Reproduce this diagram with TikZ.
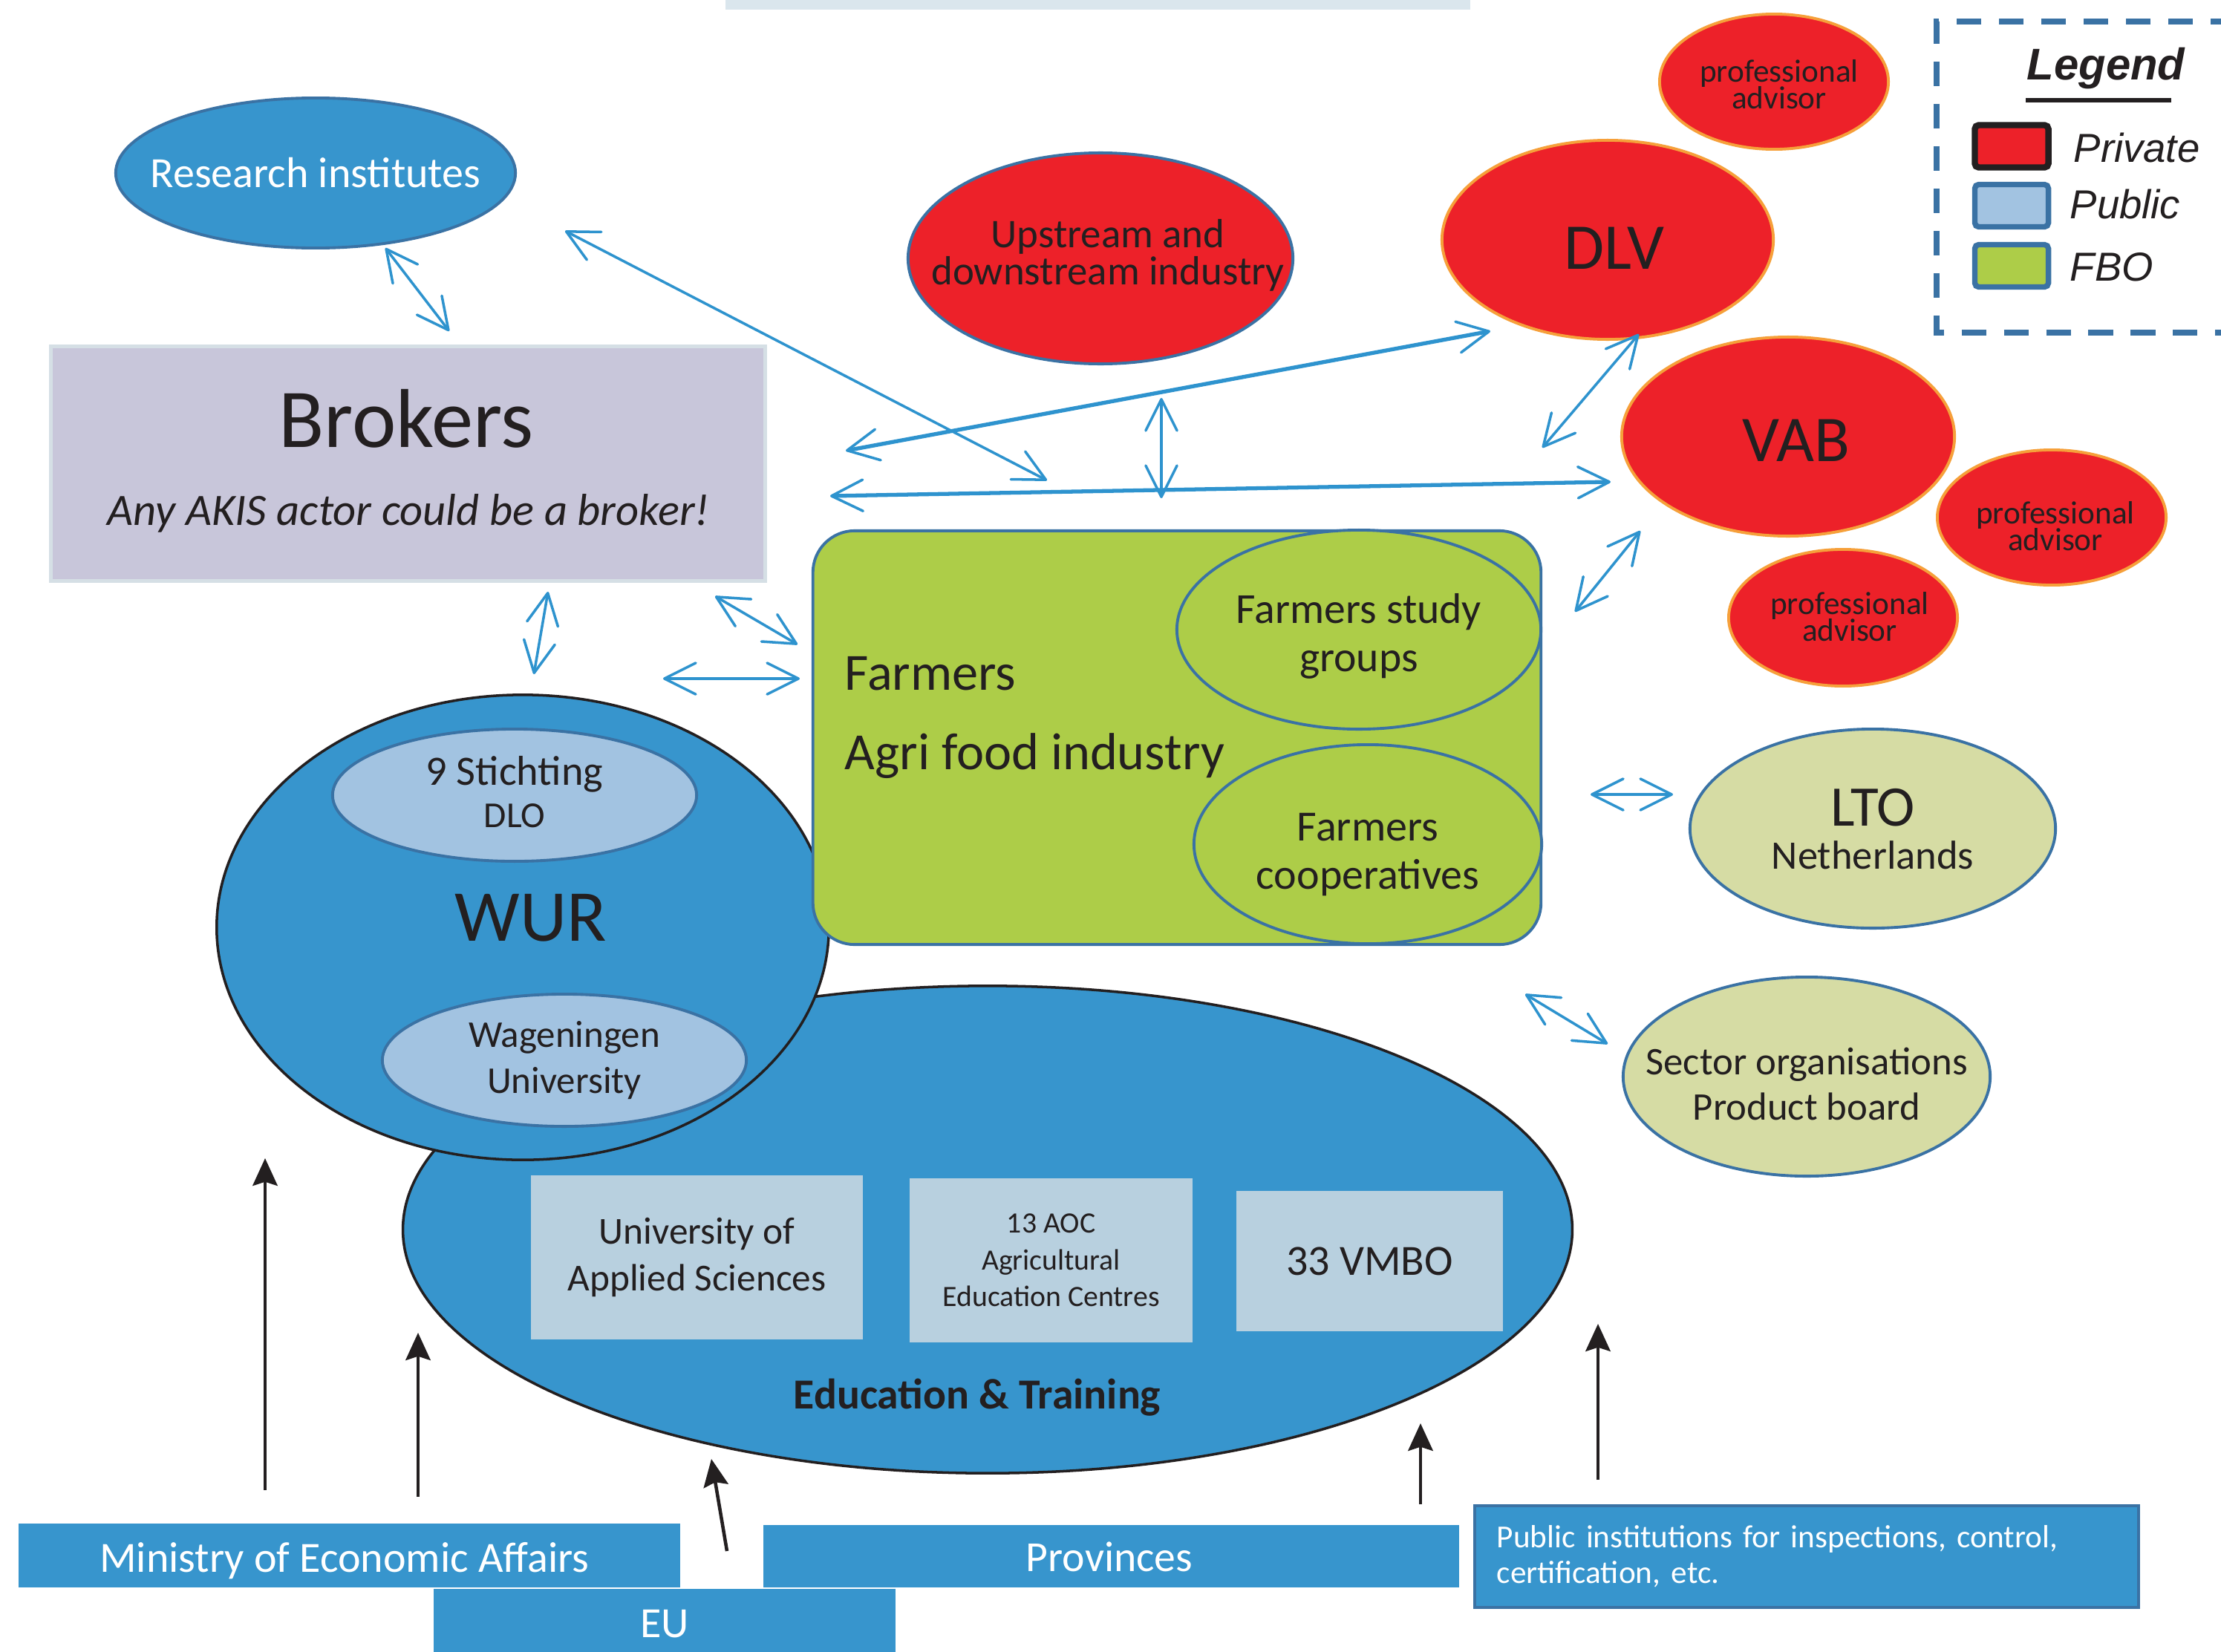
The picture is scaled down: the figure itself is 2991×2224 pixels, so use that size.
\documentclass[tikz,border=0pt]{standalone}
\usepackage{fontspec}
\setmainfont{Carlito}
\newfontfamily\legfont{Liberation Sans}
\usetikzlibrary{shapes.geometric,arrows.meta}
\definecolor{mblue}{HTML}{3795CD}
\definecolor{dblue}{HTML}{3A72A4}
\definecolor{mred}{HTML}{ED2129}
\definecolor{morange}{HTML}{F6A03A}
\definecolor{mgreen}{HTML}{ADCD48}
\definecolor{lblue}{HTML}{A2C3E1}
\definecolor{boxblue}{HTML}{B8D0DF}
\definecolor{lav}{HTML}{C8C6DA}
\definecolor{lavb}{HTML}{D5DFE5}
\definecolor{olivec}{HTML}{D6DCA4}
\definecolor{acol}{HTML}{2E93CE}
\definecolor{txtc}{HTML}{231F20}
\definecolor{topbar}{HTML}{DAE6ED}
\newcommand{\tightlines}{\lineskiplimit=-40pt\relax}
\tikzset{
  ell/.style={ellipse, draw, line width=1.1pt, inner sep=0pt},
  redell/.style={ell, fill=mred, draw=morange},
  txt/.style={inner sep=0pt, text=txtc, align=center},
  rbox/.style={rectangle, inner sep=0pt, text=txtc, align=center},
  biarrow/.style={draw=acol, line width=1pt, {Straight Barb[length=12pt,width=12pt,line width=1pt,round]}-{Straight Barb[length=12pt,width=12pt,line width=1pt,round]}},
  bithick/.style={biarrow, line width=1.5pt},
  uparrow/.style={draw=txtc, line width=1.3pt, -{Stealth[length=10.5pt,width=9.5pt,inset=1.5pt]}},
  swatch/.style={rectangle, rounded corners=1.5pt, minimum width=0.99cm, minimum height=0.57cm, line width=2.4pt, inner sep=0pt},
  pafont/.style={font=\fontsize{12.3pt}{10.2pt}\selectfont\tightlines},
}
\begin{document}
\begin{tikzpicture}[x=0.01cm,y=-0.01cm]
\useasboundingbox (0,0) rectangle (2991,2224);
\fill[white] (0,0) rectangle (2991,2224);

% top bar
\node[rectangle, fill=topbar, minimum width=10.03cm, minimum height=0.13cm, inner sep=0pt] (bar) at (1478.5,6.5) {};

% Research institutes
\node[ell, fill=mblue, draw=dblue, minimum width=5.38cm, minimum height=2.02cm] (res) at (425,233) {};
\node[txt, text=white, font=\fontsize{16.5pt}{19pt}\selectfont] (resT) at (425,233) {Research institutes};

% Brokers
\node[rbox, fill=lav, draw=lavb, line width=1.4pt, minimum width=9.61cm, minimum height=3.15cm] (brok) at (549.5,624.5) {};
\node[txt, font=\fontsize{32pt}{36pt}\selectfont] (brokT) at (547,564) {Brokers};
\node[txt, font=\fontsize{17.2pt}{20pt}\selectfont\itshape] (brokS) at (550,691) {Any AKIS actor could be a broker!};

% Upstream
\node[ell, fill=mred, draw=dblue, minimum width=5.18cm, minimum height=2.84cm] (up) at (1482,348) {};
\node[txt, font=\fontsize{15.6pt}{14.1pt}\selectfont\tightlines] (upT) at (1492,344) {Upstream and\\downstream industry};

% red ellipses
\node[redell, minimum width=3.08cm, minimum height=1.82cm] (pa1) at (2389,110) {};
\node[txt, pafont] (pa1T) at (2396,114) {professional\\advisor};
\node[redell, minimum width=4.46cm, minimum height=2.68cm] (dlv) at (2165,323) {};
\node[txt, font=\fontsize{25pt}{28pt}\selectfont] (dlvT) at (2174,334) {DLV};
\node[redell, minimum width=4.48cm, minimum height=2.68cm] (vab) at (2408,588) {};
\node[txt, font=\fontsize{25pt}{28pt}\selectfont] (vabT) at (2419,593) {VAB};
\node[redell, minimum width=3.08cm, minimum height=1.82cm] (pa2) at (2763,697) {};
\node[txt, pafont] (pa2T) at (2768,709) {professional\\advisor};
\node[redell, minimum width=3.08cm, minimum height=1.84cm] (pa3) at (2482,832) {};
\node[txt, pafont] (pa3T) at (2491,831) {professional\\advisor};

% Legend
\draw[dblue, line width=2.3pt, dash pattern=on 9.4pt off 6.8pt] (3010,29) -- (2608,29) -- (2608,448) -- (3010,448);
\node[txt, font=\legfont\fontsize{17pt}{20pt}\selectfont\bfseries\itshape] (legT) at (2836,92) {Legend};
\draw[txtc, line width=1.5pt] (2728,135) -- (2924,135);
\node[swatch, fill=mred, draw=txtc] (swA) at (2709,197) {};
\node[swatch, fill=lblue, draw=dblue, line width=2.1pt] (swB) at (2709,277) {};
\node[swatch, fill=mgreen, draw=dblue, line width=2.1pt] (swC) at (2709,358) {};
\node[txt, anchor=west, font=\legfont\fontsize{15.5pt}{18pt}\selectfont\itshape] (swAT) at (2792,199) {Private};
\node[txt, anchor=west, font=\legfont\fontsize{15.5pt}{18pt}\selectfont\itshape] (swBT) at (2787,275) {Public};
\node[txt, anchor=west, font=\legfont\fontsize{15.5pt}{18pt}\selectfont\itshape] (swCT) at (2787,360) {FBO};

% Education & Training
\node[ell, fill=mblue, draw=txtc, line width=1pt, minimum width=15.74cm, minimum height=6.56cm] (edu) at (1330,1656) {};
\node[rbox, fill=boxblue, minimum width=4.47cm, minimum height=2.21cm, font=\fontsize{14.6pt}{17.9pt}\selectfont] (uas) at (938.5,1693.5) {University of\\Applied Sciences};
\node[rbox, fill=boxblue, minimum width=3.81cm, minimum height=2.21cm, font=\fontsize{11.3pt}{14.1pt}\selectfont] (aoc) at (1415.5,1697.5) {13 AOC\\Agricultural\\Education Centres};
\node[rbox, fill=boxblue, minimum width=3.59cm, minimum height=1.89cm, font=\fontsize{16.5pt}{19pt}\selectfont] (vmbo) at (1844.5,1698.5) {33 VMBO};
\node[txt, font=\fontsize{16.4pt}{19pt}\selectfont\bfseries] (eduT) at (1316,1882) {Education \& Training};

% WUR
\node[ell, fill=mblue, draw=txtc, line width=1pt, minimum width=8.24cm, minimum height=6.26cm] (wur) at (704,1249) {};
\node[txt, font=\fontsize{28pt}{32pt}\selectfont] (wurT) at (715,1236) {WUR};
\node[ell, fill=lblue, draw=dblue, minimum width=4.90cm, minimum height=1.78cm] (dlo) at (693,1071) {};
\node[txt, font=\fontsize{16pt}{18pt}\selectfont] (dloA) at (693,1043) {9 Stichting};
\node[txt, font=\fontsize{14pt}{16pt}\selectfont] (dloB) at (693,1099) {DLO};
\node[ell, fill=lblue, draw=dblue, minimum width=4.90cm, minimum height=1.78cm] (wag) at (760,1428) {};
\node[txt, font=\fontsize{14.5pt}{17.4pt}\selectfont] (wagT) at (760,1428) {Wageningen\\University};

% Farmers box
\node[rbox, fill=mgreen, draw=dblue, line width=1.1pt, rounded corners=16pt, minimum width=9.80cm, minimum height=5.57cm] (farm) at (1585,993.5) {};
\node[txt, anchor=west, font=\fontsize{20pt}{24pt}\selectfont] (farmA) at (1137,907) {Farmers};
\node[txt, anchor=west, font=\fontsize{20pt}{24pt}\selectfont] (farmB) at (1137,1018) {Agri food industry};
\node[ell, fill=mgreen, draw=dblue, minimum width=4.90cm, minimum height=2.68cm] (study) at (1830,848) {};
\node[txt, font=\fontsize{16.4pt}{18.4pt}\selectfont] (studyT) at (1830,857) {Farmers study\\groups};
\node[ell, fill=mgreen, draw=dblue, minimum width=4.68cm, minimum height=2.68cm] (coop) at (1842,1137) {};
\node[txt, font=\fontsize{16.5pt}{18.4pt}\selectfont] (coopT) at (1842,1151) {Farmers\\cooperatives};

% LTO, Sector
\node[ell, fill=olivec, draw=dblue, minimum width=4.92cm, minimum height=2.68cm] (lto) at (2522,1116) {};
\node[txt, font=\fontsize{22pt}{24pt}\selectfont] (ltoA) at (2522,1088) {LTO};
\node[txt, font=\fontsize{15.5pt}{18pt}\selectfont] (ltoB) at (2522,1152) {Netherlands};
\node[ell, fill=olivec, draw=dblue, minimum width=4.94cm, minimum height=2.68cm] (sect) at (2433,1450) {};
\node[txt, font=\fontsize{15pt}{17.3pt}\selectfont] (sectT) at (2433,1460) {Sector organisations\\Product board};

% bottom boxes
\node[rbox, fill=mblue, minimum width=8.91cm, minimum height=0.86cm] (min) at (470.5,2095) {};
\node[txt, text=white, font=\fontsize{16.5pt}{19pt}\selectfont] (minT) at (464,2102) {Ministry of Economic Affairs};
\node[rbox, fill=mblue, minimum width=6.22cm, minimum height=0.90cm] (eu) at (895,2185) {};
\node[txt, text=white, font=\fontsize{16.5pt}{19pt}\selectfont] (euT) at (895,2187) {EU};
\node[rbox, fill=mblue, minimum width=9.37cm, minimum height=0.84cm] (prov) at (1496.5,2096) {};
\node[txt, text=white, font=\fontsize{16.4pt}{19pt}\selectfont] (provT) at (1494,2097) {Provinces};
\node[rbox, fill=mblue, draw=dblue, line width=1.2pt, minimum width=8.94cm, minimum height=1.37cm, text=white,
      align=left, text width=8.34cm, font=\fontsize{12.3pt}{13.6pt}\selectfont] (pub) at (2433,2096.5) {Public institutions for inspections, control,\\certification, etc.};

% black arrows
\coordinate (k1a) at (357,2007); \coordinate (k1b) at (357,1560);
\coordinate (k2a) at (563,2016); \coordinate (k2b) at (563,1795);
\coordinate (k3a) at (979,2089); \coordinate (k3b) at (958,1965);
\coordinate (k4a) at (1913,2026); \coordinate (k4b) at (1913,1917);
\coordinate (k5a) at (2152,1993); \coordinate (k5b) at (2152,1783);
\draw[uparrow] (k1a) -- (k1b);
\draw[uparrow] (k2a) -- (k2b);
\draw[uparrow] (k3a) -- (k3b);
\draw[uparrow] (k4a) -- (k4b);
\draw[uparrow] (k5a) -- (k5b);

% blue double arrows
\coordinate (ba1) at (519,334);  \coordinate (ba2) at (605,446);
\coordinate (bb1) at (761,311);  \coordinate (bb2) at (1410,647);
\coordinate (bc1) at (1139,607); \coordinate (bc2) at (2007,446);
\coordinate (bd1) at (1118,668); \coordinate (bd2) at (2169,649);
\coordinate (be1) at (1564,536); \coordinate (be2) at (1564,671);
\coordinate (bf1) at (2207,450); \coordinate (bf2) at (2077,603);
\coordinate (bg1) at (2209,715); \coordinate (bg2) at (2121,824);
\coordinate (bh1) at (738,797);  \coordinate (bh2) at (719,908);
\coordinate (bi1) at (963,803);  \coordinate (bi2) at (1074,868);
\coordinate (bj1) at (893,914);  \coordinate (bj2) at (1077,914);
\coordinate (bk1) at (2142,1070); \coordinate (bk2) at (2253,1070);
\coordinate (bl1) at (2054,1339); \coordinate (bl2) at (2165,1406);
\draw[biarrow] (ba1) -- (ba2);
\draw[biarrow] (bb1) -- (bb2);
\draw[bithick] (bc1) -- (bc2);
\draw[bithick] (bd1) -- (bd2);
\draw[biarrow] (be1) -- (be2);
\draw[biarrow] (bf1) -- (bf2);
\draw[biarrow] (bg1) -- (bg2);
\draw[biarrow] (bh1) -- (bh2);
\draw[biarrow] (bi1) -- (bi2);
\draw[biarrow] (bj1) -- (bj2);
\draw[biarrow] (bk1) -- (bk2);
\draw[biarrow] (bl1) -- (bl2);
\end{tikzpicture}
\end{document}
